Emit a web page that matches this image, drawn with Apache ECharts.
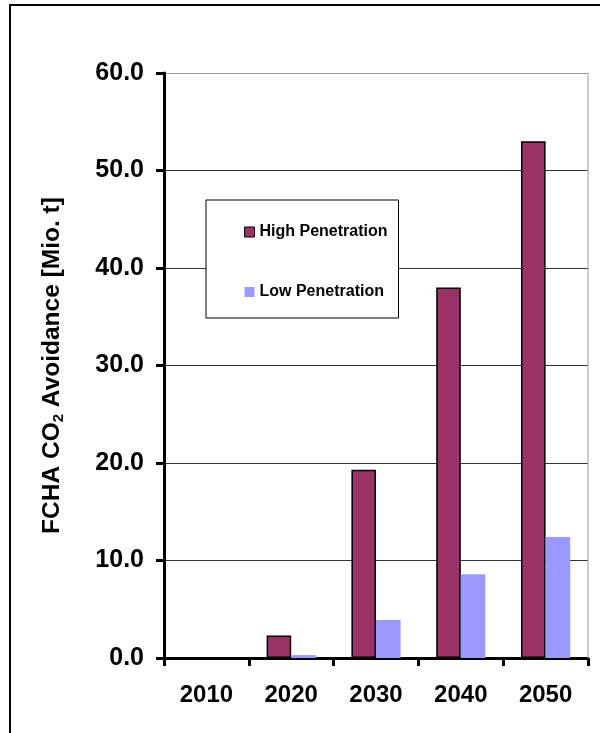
<!DOCTYPE html>
<html>
<head>
<meta charset="utf-8">
<script src="https://cdn.jsdelivr.net/npm/echarts@6/dist/echarts.min.js"></script>
<style>
  html, body { margin: 0; padding: 0; background: #fff; }
  #chart { width: 600px; height: 733px; }
</style>
</head>
<body>
<div id="chart"></div>
<script>
// Years on the category axis
const years = ['2010', '2020', '2030', '2040', '2050'];
// CO2 avoidance per scenario, million tonnes
const highPenetration = [0, 2.3, 19.3, 38.0, 53.0];
const lowPenetration = [0, 0.3, 3.9, 8.6, 12.4];
// Value axis range
const yMin = 0, yMax = 60, yStep = 10;

const FONT = '"Liberation Sans", Arial, sans-serif';
const chart = echarts.init(document.getElementById('chart'), null, { renderer: 'canvas' });

// splitLine colours: darker inner lines, lighter top edge
const lineCount = (yMax - yMin) / yStep + 1;
const splitColors = [];
for (let i = 0; i < lineCount; i++) splitColors.push(i === lineCount - 1 ? '#999' : '#333');

chart.setOption({
  animation: false,
  backgroundColor: '#fff',
  textStyle: { fontFamily: FONT },
  graphic: [{
    type: 'rect',
    shape: { x: 10, y: 5, width: 620, height: 760 },
    style: { fill: 'none', stroke: '#000', lineWidth: 2 },
    silent: true
  }, {
    type: 'line',
    shape: { x1: 588, y1: 73, x2: 588, y2: 658 },
    style: { stroke: '#999', lineWidth: 1 },
    z: 5
  }],
  grid: { left: 164, right: 12, top: 73, bottom: 75 },
  legend: {
    orient: 'vertical',
    left: 206, top: 200,
    padding: [24, 11, 18, 38],
    itemGap: 44,
    itemWidth: 10, itemHeight: 10,
    backgroundColor: '#fff',
    borderColor: '#000', borderWidth: 1,
    textStyle: { fontFamily: FONT, fontWeight: 'bold', fontSize: 16, color: '#000' },
    data: [
      { name: 'High Penetration', icon: 'rect', itemStyle: { color: '#993366', borderColor: '#000', borderWidth: 1 } },
      { name: 'Low Penetration', icon: 'rect', itemStyle: { color: '#9999FF', borderWidth: 0 } }
    ]
  },
  xAxis: {
    type: 'category',
    data: years,
    axisLine: { lineStyle: { color: '#000', width: 3 } },
    axisTick: { show: true, length: 8, lineStyle: { color: '#000', width: 3 } },
    axisLabel: { fontFamily: FONT, fontWeight: 'bold', fontSize: 24, color: '#000', margin: 25 },
    splitLine: { show: false }
  },
  yAxis: {
    type: 'value',
    min: yMin, max: yMax, interval: yStep,
    name: '{a|FCHA CO}{s|2}{a| Avoidance [Mio. t]}',
    nameLocation: 'middle',
    nameGap: 98,
    nameRotate: 90,
    nameTextStyle: {
      rich: {
        a: { fontFamily: FONT, fontWeight: 'bold', fontSize: 24.5, color: '#000', lineHeight: 28 },
        s: { fontFamily: FONT, fontWeight: 'bold', fontSize: 15, color: '#000', lineHeight: 28, verticalAlign: 'bottom', padding: [9, 0, 0, 0] }
      }
    },
    axisLine: { show: true, lineStyle: { color: '#000', width: 3 } },
    axisTick: { show: true, length: 8, lineStyle: { color: '#000', width: 3 } },
    axisLabel: {
      fontFamily: FONT, fontWeight: 'bold', fontSize: 25, color: '#000', margin: 20,
      padding: [3, 0, 0, 0],
      formatter: v => v.toFixed(1)
    },
    splitLine: { show: true, lineStyle: { color: splitColors, width: 1 } }
  },
  series: [{
    name: 'High Penetration',
    type: 'bar',
    data: highPenetration,
    barGap: '0%',
    barCategoryGap: '42%',
    itemStyle: { color: '#993366', borderColor: '#000', borderWidth: 1.5 }
  }, {
    name: 'Low Penetration',
    type: 'bar',
    data: lowPenetration,
    itemStyle: { color: '#9999FF' }
  }]
});
</script>
</body>
</html>
